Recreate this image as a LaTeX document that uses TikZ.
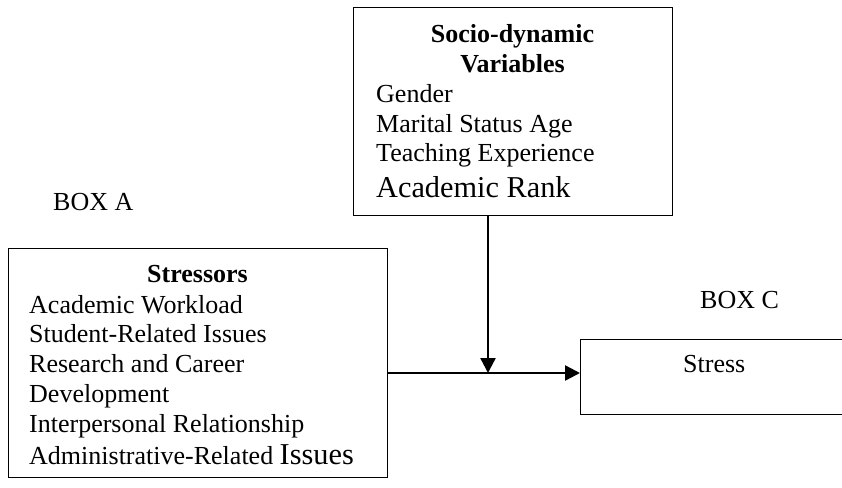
\documentclass[tikz,border=0pt]{standalone}
\usepackage{fontspec}
\setmainfont{Liberation Serif}
\usetikzlibrary{arrows.meta}
\newcommand{\normsz}{\fontsize{26}{30}\selectfont}
\newcommand{\bigsz}{\fontsize{30.3}{34}\selectfont}
\tikzset{
  boxshape/.style={draw, line width=1.4pt, inner sep=0pt, anchor=north west},
  txt/.style={anchor=base west, inner sep=0pt, font=\normsz},
  ttl/.style={anchor=base, inner sep=0pt, font=\normsz\bfseries},
  conn/.style={line width=2.4pt, -{Triangle[length=15pt,width=15pt]}}
}
\begin{document}
\begin{tikzpicture}[x=1pt,y=-1pt]
\useasboundingbox (0,0) rectangle (842,487);
% boxes
\node[boxshape, minimum width=319pt, minimum height=208pt] (topbox) at (353,7) {};
\node[boxshape, minimum width=379pt, minimum height=229pt] (leftbox) at (8,248) {};
\node[boxshape, minimum width=320pt, minimum height=75pt] (boxc) at (580,339) {};
% top box text
\node[ttl] (t1) at (512.5,43) {Socio-dynamic};
\node[ttl] (t2) at (512.5,72) {Variables};
\node[txt] (t3) at (376,102) {Gender};
\node[txt] (t4) at (376,132) {Marital Status Age};
\node[txt] (t5) at (376,161) {Teaching Experience};
\node[txt, font=\bigsz] (t6) at (376,197) {Academic Rank};
% labels
\node[txt] (boxa) at (53,210) {BOX A};
\node[txt] (boxclab) at (700,308) {BOX C};
% left box text
\node[ttl] (s0) at (197.5,282) {Stressors};
\node[txt] (s1) at (29,313) {Academic Workload};
\node[txt] (s2) at (29,342) {Student-Related Issues};
\node[txt] (s3) at (29,372) {Research and Career};
\node[txt] (s4) at (29,402) {Development};
\node[txt] (s5) at (29,432) {Interpersonal Relationship};
\node[txt] (s6) at (29,464) {Administrative-Related {\bigsz Issues}};
% box C text
\node[txt] (stress) at (683,372) {Stress};
% connectors
\coordinate (j) at (488,373);
\draw[conn] (topbox.south -| j) -- (j);
\draw[conn] (leftbox.east |- j) -- (boxc.west |- j);
\end{tikzpicture}
\end{document}
